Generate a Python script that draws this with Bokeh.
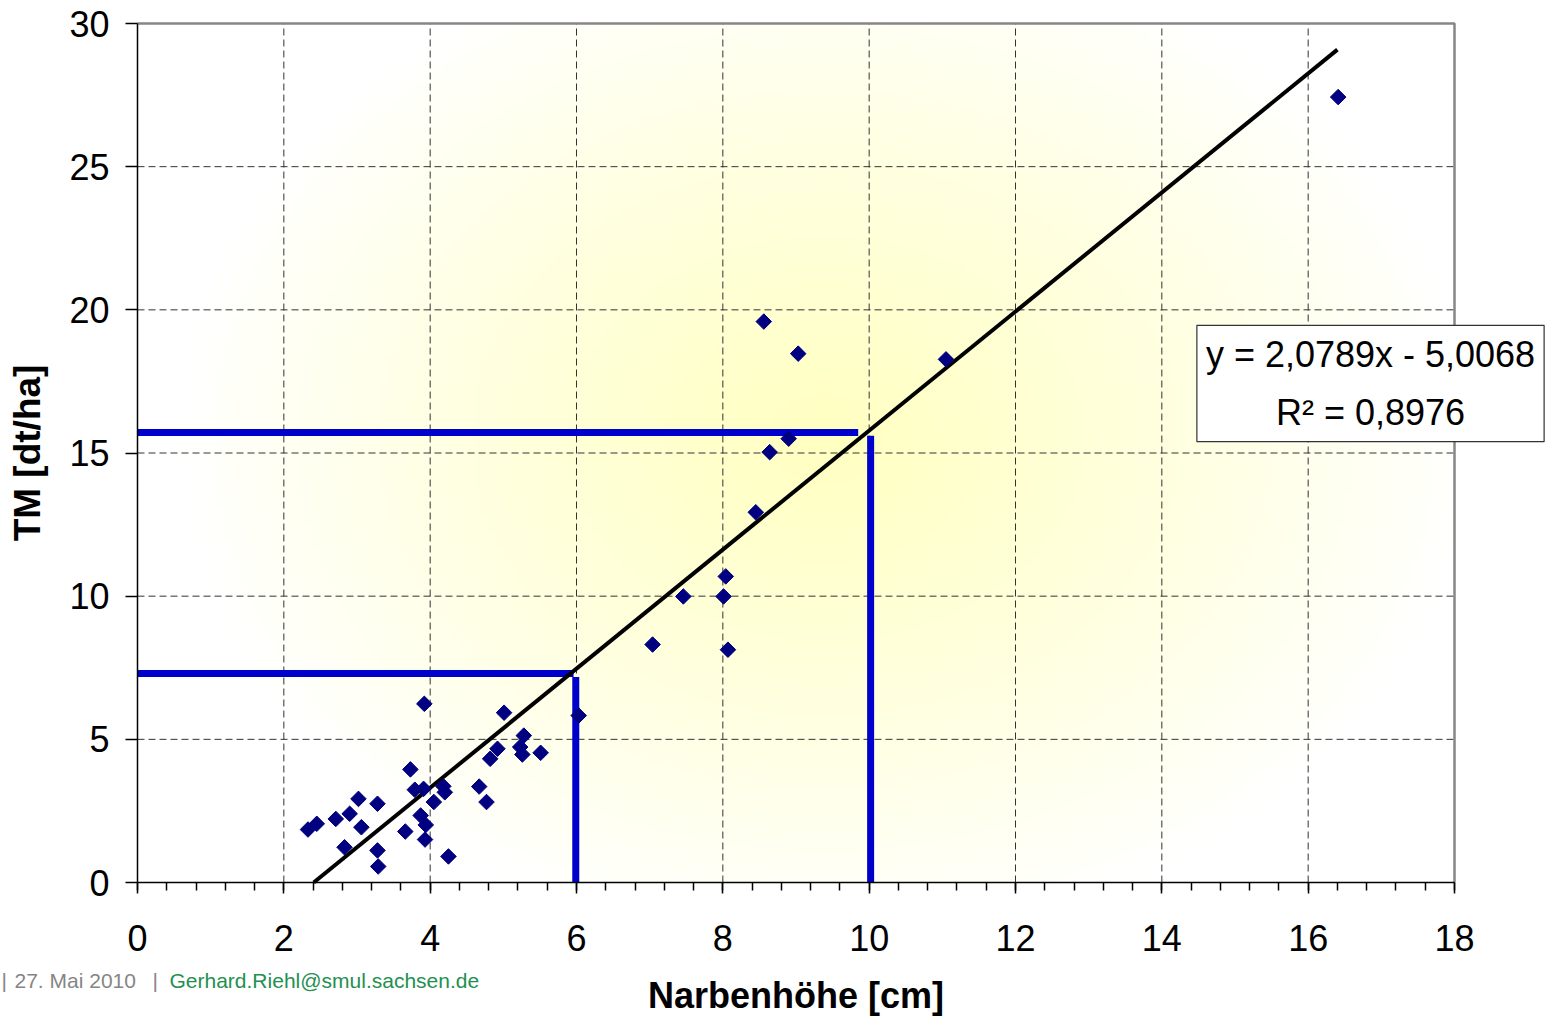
import numpy as np
from bokeh.plotting import figure
from bokeh.models import Range1d, Label, FixedTicker, ColumnDataSource
from bokeh.embed import file_html
from bokeh.resources import INLINE

# ---- data ----
narbenhoehe = [2.33, 2.45, 2.71, 2.83, 2.90, 3.02, 3.06, 3.28, 3.28, 3.29,
               3.66, 3.73, 3.79, 3.87, 3.91, 3.92, 3.93, 3.94, 4.05, 4.18,
               4.20, 4.25, 4.67, 4.77, 4.82, 4.92, 5.01, 5.23, 5.26, 5.28,
               5.51, 6.03, 7.04, 7.46, 8.01, 8.04, 8.07, 8.45, 8.56, 8.64,
               8.90, 9.03, 11.05, 16.41]
tm = [1.85, 2.05, 2.22, 1.23, 2.40, 2.92, 1.93, 2.75, 1.12, 0.56,
      1.78, 3.95, 3.24, 2.34, 3.27, 6.24, 1.50, 2.01, 2.81, 3.36,
      3.15, 0.91, 3.35, 2.81, 4.32, 4.67, 5.93, 4.73, 4.47, 5.13,
      4.53, 5.83, 8.31, 9.99, 9.99, 10.69, 8.13, 12.93, 19.59, 15.03,
      15.50, 18.47, 18.27, 27.43]

slope = 2.0789
intercept = -5.0068
trend_x_end = 16.4
equation_text = "y = 2,0789x - 5,0068\nR\u00b2 = 0,8976"

# reading lines (blue): x position, y level, end of horizontal part, top of vertical part
read_x = [5.99, 10.02]
read_y = [7.30, 15.72]
read_h_end = [5.96, 9.85]
read_v_top = [7.18, 15.60]

x_ticks = [0, 2, 4, 6, 8, 10, 12, 14, 16, 18]
y_ticks = [0, 5, 10, 15, 20, 25, 30]
x_max, y_max = 18, 30

# ---- layout (pixels of the 1546x1018 canvas) ----
W_PX, H_PX = 1546, 1018
AX_LEFT, AX_RIGHT = 137, 1454      # x = 0 and x = 18
AX_BOTTOM, AX_TOP = 882, 23        # y = 0 and y = 30
sx = (AX_RIGHT - AX_LEFT) / x_max
sy = (AX_BOTTOM - AX_TOP) / y_max


def px_x(px):
    return (px - AX_LEFT) / sx


def px_y(py):
    return (AX_BOTTOM - py) / sy


FONT = "Liberation Sans"

p = figure(width=W_PX, height=H_PX, output_backend="svg", toolbar_location=None,
           x_range=Range1d(px_x(0), px_x(W_PX)),
           y_range=Range1d(px_y(H_PX), px_y(0)),
           min_border=0, min_border_left=0, min_border_right=0,
           min_border_top=0, min_border_bottom=0)
p.title.visible = False
p.background_fill_color = "white"
p.border_fill_color = "white"
p.outline_line_color = None
p.xgrid.visible = False
p.ygrid.visible = False

# background radial gradient (decoration) inside the plot area
GW, GH = 180, 300
gx = np.linspace(0, x_max, GW)
gy = np.linspace(0, y_max, GH)
GX, GY = np.meshgrid(gx, gy)
d = np.sqrt(((GX - 9.4) / 8.8) ** 2 + ((GY - 15.5) / 17.5) ** 2)
t = np.clip(1 - d, 0, 1) ** 0.9
img = np.empty((GH, GW), dtype=np.uint32)
view = img.view(dtype=np.uint8).reshape((GH, GW, 4))
view[:, :, 0] = 255
view[:, :, 1] = 255
view[:, :, 2] = (255 - 62 * t).astype(np.uint8)
view[:, :, 3] = 255
p.image_rgba(image=[img], x=0, y=0, dw=x_max, dh=y_max)

# dashed grid lines inside the plot area
gxs = [v for v in x_ticks if 0 < v < x_max]
gys = [v for v in y_ticks if 0 < v < y_max]
p.segment(x0=gxs, y0=[0] * len(gxs), x1=gxs, y1=[y_max] * len(gxs),
          line_color="#333333", line_dash="7 4", line_width=1)
p.segment(x0=[0] * len(gys), y0=gys, x1=[x_max] * len(gys), y1=gys,
          line_color="#333333", line_dash="7 4", line_width=1)

# top and right border of the plot area
p.line(x=[0, x_max, x_max], y=[y_max, y_max, 0], line_color="#868686", line_width=2.5)

# axes fixed at the data origin
p.xaxis.fixed_location = 0
p.yaxis.fixed_location = 0
p.xaxis.bounds = (0, x_max)
p.yaxis.bounds = (0, y_max)
p.xaxis.ticker = FixedTicker(ticks=x_ticks,
                             minor_ticks=[round(i * 0.4, 2) for i in range(46)])
p.yaxis.ticker = FixedTicker(ticks=y_ticks)
for ax in (p.xaxis, p.yaxis):
    ax.axis_line_color = "black"
    ax.axis_line_width = 1.5
    ax.major_tick_line_color = "black"
    ax.major_tick_line_width = 1.5
    ax.major_tick_in = 0
    ax.major_label_text_font = FONT
    ax.major_label_text_font_size = "36px"
    ax.major_label_text_color = "black"
    ax.axis_label_text_font = FONT
    ax.axis_label_text_font_style = "bold"
    ax.axis_label_text_color = "black"
p.xaxis.axis_label_text_font_size = "36px"
p.yaxis.axis_label_text_font_size = "37px"
p.xaxis.major_tick_out = 11
p.xaxis.minor_tick_out = 8
p.xaxis.minor_tick_in = 0
p.xaxis.minor_tick_line_color = "black"
p.xaxis.minor_tick_line_width = 1.5
p.yaxis.major_tick_out = 12
p.yaxis.minor_tick_line_color = None
p.xaxis.major_label_standoff = 31
p.yaxis.major_label_standoff = 16
p.xaxis.axis_label = "Narbenhöhe [cm]"
p.yaxis.axis_label = "TM [dt/ha]"
p.xaxis.axis_label_standoff = 21
p.yaxis.axis_label_standoff = 18

# blue reading lines
for rx, ry, he, vt in zip(read_x, read_y, read_h_end, read_v_top):
    p.line(x=[0, he], y=[ry, ry], line_color="#0000CC", line_width=7, line_cap="butt")
    p.line(x=[rx, rx], y=[0, vt], line_color="#0000CC", line_width=7, line_cap="butt")

# trend line from the regression equation
tx0 = -intercept / slope
trend = ColumnDataSource(dict(x=[tx0, trend_x_end],
                              y=[slope * tx0 + intercept, slope * trend_x_end + intercept]))
p.line(x="x", y="y", source=trend, line_color="black", line_width=4)

# data points
p.scatter(x=narbenhoehe, y=tm, marker="square", angle=np.pi / 4, size=11,
          fill_color="#000080", line_color="#000080")

# equation box
eq = Label(x=px_x(1370), y=px_y(383), text=equation_text,
           text_align="center", text_baseline="middle",
           text_font=FONT, text_font_size="36px", text_color="black",
           text_line_height=1.4,
           background_fill_color="white", border_line_color="#333333",
           border_line_width=1.2, padding=9)
p.add_layout(eq)

# footer
fy = px_y(980)
grey = "#858585"
for px, txt, col in [(1, "|", grey), (14, "27. Mai 2010", grey), (152, "|", grey),
                     (169, "Gerhard.Riehl@smul.sachsen.de", "#23904F")]:
    p.add_layout(Label(x=px_x(px), y=fy, text=txt, text_baseline="middle",
                       text_font=FONT, text_font_size="21px", text_color=col))

open("out.html", "w").write(file_html(p, INLINE))
